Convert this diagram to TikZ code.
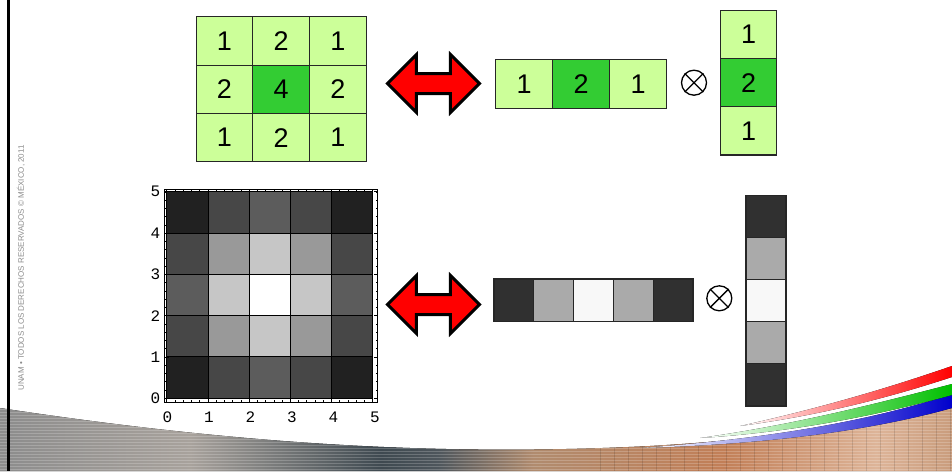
\documentclass[tikz,border=0pt]{standalone}
\usepackage{fontspec}
\setmainfont{Liberation Sans}
\newfontfamily\plotfont{Liberation Mono}
\usetikzlibrary{shapes.arrows,positioning}
\definecolor{cLite}{HTML}{CCFF99}
\definecolor{cDark}{HTML}{33CC33}
\definecolor{pA}{HTML}{8C8C8C}
\definecolor{pB}{HTML}{A8A29C}
\definecolor{pC}{HTML}{3E4950}
\definecolor{pD}{HTML}{4E565C}
\definecolor{pE}{HTML}{B08B6E}
\definecolor{pF}{HTML}{C27F57}
\definecolor{pG}{HTML}{DDB498}
\definecolor{pH}{HTML}{C99C7C}
\pgfdeclarehorizontalshading{photo}{100bp}{color(0bp)=(pA); color(25bp)=(pA);
  color(35bp)=(pB); color(45bp)=(pC); color(48bp)=(pD); color(53bp)=(pE);
  color(63bp)=(pF); color(71bp)=(pG); color(75bp)=(pH); color(100bp)=(pH)}
\tikzset{
  cell/.style={draw=black!85,line width=1.2pt,minimum width=56.7pt,minimum height=48.3pt,
    inner sep=0,outer sep=0,font=\fontsize{27}{27}\selectfont},
  gcell/.style={draw=black!85,line width=1.2pt,inner sep=0,outer sep=0},
  dbl/.style={double arrow,draw=black,line width=3pt,fill=red,minimum height=92pt,
    inner xsep=0,inner ysep=8.5pt,double arrow head extend=19pt},
  op/.style={circle,draw,line width=1.3pt,minimum size=25pt,inner sep=0},
  tick/.style={font=\plotfont\fontsize{16}{16}\selectfont,inner sep=0}
}

\begin{document}
\begin{tikzpicture}[x=1pt,y=-1pt]
  \useasboundingbox (0,0) rectangle (952,471);
  % slide background
  \def\band{(0,408) .. controls (250,446) and (450,456) .. (650,446)
    .. controls (790,438) and (880,422) .. (952,406) -- (952,471) -- (0,471) -- cycle}
  \fill[shading=photo] \band;
  \begin{scope}
    \clip \band;
    \foreach \yy in {400,403,...,471}
      \draw[white,opacity=.2,line width=.8pt] (0,\yy) -- (952,\yy);
    \foreach \xx in {600,614,...,952}
      \draw[black,opacity=.12,line width=.8pt] (\xx,400) -- (\xx,471);
  \end{scope}
  \fill[left color=white,right color=blue!80!black]
    (640,448) .. controls (780,438) and (880,418) .. (952,394) -- (952,408)
    .. controls (880,428) and (780,444) .. cycle;
  \fill[left color=white,right color=green!75!black]
    (700,438) .. controls (800,424) and (890,400) .. (952,384) -- (952,395)
    .. controls (890,412) and (800,432) .. cycle;
  \fill[left color=white,right color=red]
    (740,426) .. controls (830,406) and (900,384) .. (952,366) -- (952,377)
    .. controls (900,394) and (830,414) .. cycle;
  \draw[line width=2.5pt] (8.5,0) -- (8.5,471);
  \node[rotate=90,text=black!45,font=\fontsize{8}{8}\selectfont] (rights) at (21,268)
    {UNAM • TODOS LOS DERECHOS RESERVADOS © MÉXICO, 2011};

  % kernel and its factors
  \foreach \r in {0,1,2}\foreach \c in {0,1,2}{
    \pgfmathtruncatemacro\v{(2-abs(\r-1))*(2-abs(\c-1))}
    \ifnum\v=4 \def\cc{cDark}\else\def\cc{cLite}\fi
    \node[cell,fill=\cc] (k\r\c) at (224.5+56.7*\c,41+48.3*\r) {\v};
  }
  \foreach \i/\v in {0/1,1/2,2/1}{
    \ifnum\v=2 \def\cc{cDark}\else\def\cc{cLite}\fi
    \node[cell,fill=\cc,minimum height=49pt] (hr\i) at (524.2+57*\i,83.8) {\v};
    \node[cell,fill=\cc] (vc\i) at (748.5,34.3+48.3*\i) {\v};
  }
  \node[dbl] (eqA) at (433.4,83.5) {};
  \node[op] (opA) at (694,82.7) {};
  \draw[line width=1.3pt] (opA.north west) -- (opA.south east) (opA.north east) -- (opA.south west);

  % image of the kernel
  \foreach \r in {0,...,4}\foreach \c in {0,...,4}{
    \pgfmathsetmacro\ga{{0.36,0.775,1}[min(\r,4-\r)]}
    \pgfmathsetmacro\gb{{0.36,0.775,1}[min(\c,4-\c)]}
    \pgfmathsetmacro\g{\ga*\gb}
    \node[gcell,draw=black,line width=.8pt,minimum width=41.2pt,minimum height=41.3pt,
      fill={rgb,1:red,\g;green,\g;blue,\g}] (img\r\c) at (187.3+41.2*\c,212.3+41.3*\r) {};
  }
  \draw[line width=1pt] (164.5,189.5) rectangle (377.5,402);
  \foreach \d in {0,0.2,...,5.1}{
    \draw[line width=.6pt] (166.7+41.2*\d,402) -- ++(0,-2) (166.7+41.2*\d,189.5) -- ++(0,2);
    \draw[line width=.6pt] (164.5,398.3-41.3*\d) -- ++(2,0) (377.5,398.3-41.3*\d) -- ++(-2,0);
  }
  \foreach \d in {0,...,5}{
    \draw[line width=.8pt] (166.7+41.2*\d,402) -- ++(0,-4) (166.7+41.2*\d,189.5) -- ++(0,4);
    \draw[line width=.8pt] (164.5,398.3-41.3*\d) -- ++(4,0) (377.5,398.3-41.3*\d) -- ++(-4,0);
    \node[tick] (xl\d) at (167.5+41.5*\d,417) {\d};
    \node[tick] (yl\d) at (155.5,398.3-41.3*\d) {\d};
  }
  \foreach \i/\g in {0/0.19,1/0.667,2/0.973,3/0.667,4/0.19}{
    \node[gcell,minimum width=39.8pt,minimum height=42.7pt,
      fill={rgb,1:red,\g;green,\g;blue,\g}] (hg\i) at (513.9+39.8*\i,300.3) {};
    \node[gcell,minimum width=40pt,minimum height=42.1pt,
      fill={rgb,1:red,\g;green,\g;blue,\g}] (vg\i) at (766,216.7+42.06*\i) {};
  }
  \node[dbl] (eqB) at (433.4,304.5) {};
  \node[op] (opB) at (719.3,298.3) {};
  \draw[line width=1.3pt] (opB.north west) -- (opB.south east) (opB.north east) -- (opB.south west);
\end{tikzpicture}
\end{document}
